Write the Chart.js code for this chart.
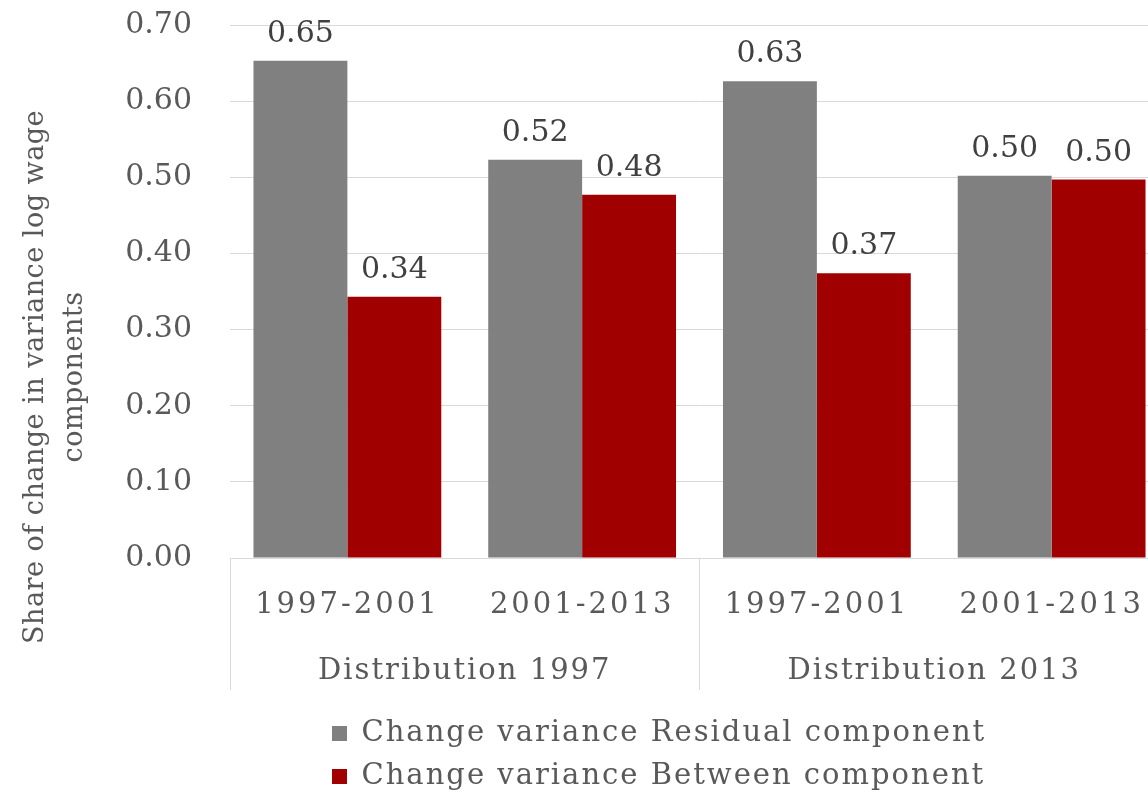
<!DOCTYPE html>
<html>
<head>
<meta charset="utf-8">
<script src="https://cdn.jsdelivr.net/npm/chart.js@4.4.1/dist/chart.umd.min.js"></script>
<style>
  html, body { margin: 0; padding: 0; background: #ffffff; width: 1148px; height: 794px; overflow: hidden; }
  #wrap { width: 1172px; height: 801px; }
  canvas { display: block; }
</style>
</head>
<body>
<div id="wrap"><canvas id="chart" width="1172" height="801" style="width:1172px;height:801px"></canvas></div>
<script>
// Periods (inner axis level) and distributions (outer axis level)
const periods = ['1997-2001', '2001-2013', '1997-2001', '2001-2013'];
const distributions = ['Distribution 1997', 'Distribution 2013'];

// Share of the change in variance of log wages
const residualShare = [0.653, 0.523, 0.626, 0.502];
const betweenShare  = [0.343, 0.477, 0.374, 0.497];

const seriesNames = ['Change variance Residual component', 'Change variance Between component'];
const yTitleLines = ['Share of change in variance log wage', 'components'];
const yMin = 0, yMax = 0.70, yStep = 0.10;

const FONT = '"DejaVu Serif", serif';
const TEXT = '#595959';
const GRID = '#d9d9d9';
const SPACING = '2px';
// letter spacing used when each axis draws its labels
const AXIS_SPACING = { x: '3px', x2: '2px', y: '0px' };

Chart.defaults.font.family = FONT;
Chart.defaults.color = TEXT;

const spacingPlugin = {
  id: 'spacing',
  beforeUpdate(chart) { chart.ctx.letterSpacing = SPACING; },
  beforeLayout(chart) { chart.ctx.letterSpacing = SPACING; },
  beforeDraw(chart) { chart.ctx.letterSpacing = SPACING; },
  afterLayout(chart) {
    // per-axis letter spacing for tick labels
    Object.keys(AXIS_SPACING).forEach((id) => {
      const scale = chart.scales[id];
      if (!scale || scale._spacingWrapped) return;
      const draw = scale.drawLabels.bind(scale);
      scale.drawLabels = function (area) {
        const prev = this.ctx.letterSpacing;
        this.ctx.letterSpacing = AXIS_SPACING[id];
        draw(area);
        this.ctx.letterSpacing = prev;
      };
      scale._spacingWrapped = true;
    });
    // place the stacked legend rows under the left part of the plot
    const lg = chart.legend;
    if (!lg) return;
    const target = chart.chartArea.left + 102;
    const dx = target - (lg.left + lg.options.labels.padding);
    lg.left += dx;
    lg.right += dx;
  }
};

// Value labels above each bar
const valueLabels = {
  id: 'valueLabels',
  afterDatasetsDraw(chart) {
    const ctx = chart.ctx;
    ctx.save();
    ctx.letterSpacing = '0px';
    ctx.font = '30px ' + FONT;
    ctx.fillStyle = '#404040';
    ctx.textAlign = 'center';
    ctx.textBaseline = 'alphabetic';
    chart.data.datasets.forEach((ds, i) => {
      chart.getDatasetMeta(i).data.forEach((bar, j) => {
        ctx.fillText(ds.data[j].toFixed(2), bar.x, bar.y - 19);
      });
    });
    ctx.restore();
  }
};

// Two-line rotated y-axis title, centred on the plot plus its category labels
const yAxisTitle = {
  id: 'yAxisTitle',
  afterDraw(chart) {
    const ctx = chart.ctx;
    const cy = (chart.chartArea.top + chart.scales.x2.bottom) / 2 + 12;
    ctx.save();
    ctx.letterSpacing = '0.5px';
    ctx.translate(0, cy);
    ctx.rotate(-Math.PI / 2);
    ctx.font = '27px ' + FONT;
    ctx.fillStyle = TEXT;
    ctx.textAlign = 'center';
    ctx.textBaseline = 'alphabetic';
    ctx.fillText(yTitleLines[0], 0, 43);
    ctx.fillText(yTitleLines[1], 0, 82);
    ctx.restore();
  }
};

new Chart(document.getElementById('chart'), {
  type: 'bar',
  data: {
    labels: periods,
    datasets: [
      { label: seriesNames[0], data: residualShare, backgroundColor: '#808080', borderWidth: 0 },
      { label: seriesNames[1], data: betweenShare,  backgroundColor: '#a00000', borderWidth: 0 }
    ]
  },
  options: {
    responsive: false,
    animation: false,
    devicePixelRatio: 1,
    datasets: { bar: { categoryPercentage: 0.8, barPercentage: 1.0 } },
    layout: { padding: { top: 25, right: 3, bottom: 0, left: 0 } },
    plugins: {
      legend: {
        position: 'bottom',
        align: 'start',
        labels: {
          boxWidth: 15,
          boxHeight: 15,
          padding: 14,
          color: TEXT,
          font: { size: 29, family: FONT }
        }
      },
      tooltip: { enabled: false }
    },
    scales: {
      x: {
        type: 'category',
        offset: true,
        grid: {
          display: true,
          drawOnChartArea: false,
          offset: true,
          tickLength: 132,
          lineWidth: 1,
          color: (c) => (c.index === 1 || c.index === 3) ? 'rgba(0,0,0,0)' : GRID
        },
        border: { display: true, color: GRID, width: 1 },
        ticks: { padding: -102, color: TEXT, font: { size: 29 }, maxRotation: 0, autoSkip: false },
        afterFit(scale) { scale.height = 80; }
      },
      x2: {
        type: 'category',
        position: 'bottom',
        labels: distributions,
        offset: true,
        grid: { display: false },
        border: { display: false },
        ticks: { padding: 8, color: TEXT, font: { size: 29 }, maxRotation: 0, autoSkip: false },
        afterFit(scale) { scale.height = 67; }
      },
      y: {
        min: yMin,
        max: yMax,
        grid: { color: GRID, lineWidth: 1, drawTicks: true, tickLength: 36, tickColor: 'rgba(0,0,0,0)' },
        border: { display: false },
        ticks: {
          stepSize: yStep,
          padding: 2,
          color: TEXT,
          font: { size: 30 },
          callback: (v) => Number(v).toFixed(2)
        },
        afterFit(scale) { scale.width = 230; }
      }
    }
  },
  plugins: [spacingPlugin, valueLabels, yAxisTitle]
});
</script>
</body>
</html>
